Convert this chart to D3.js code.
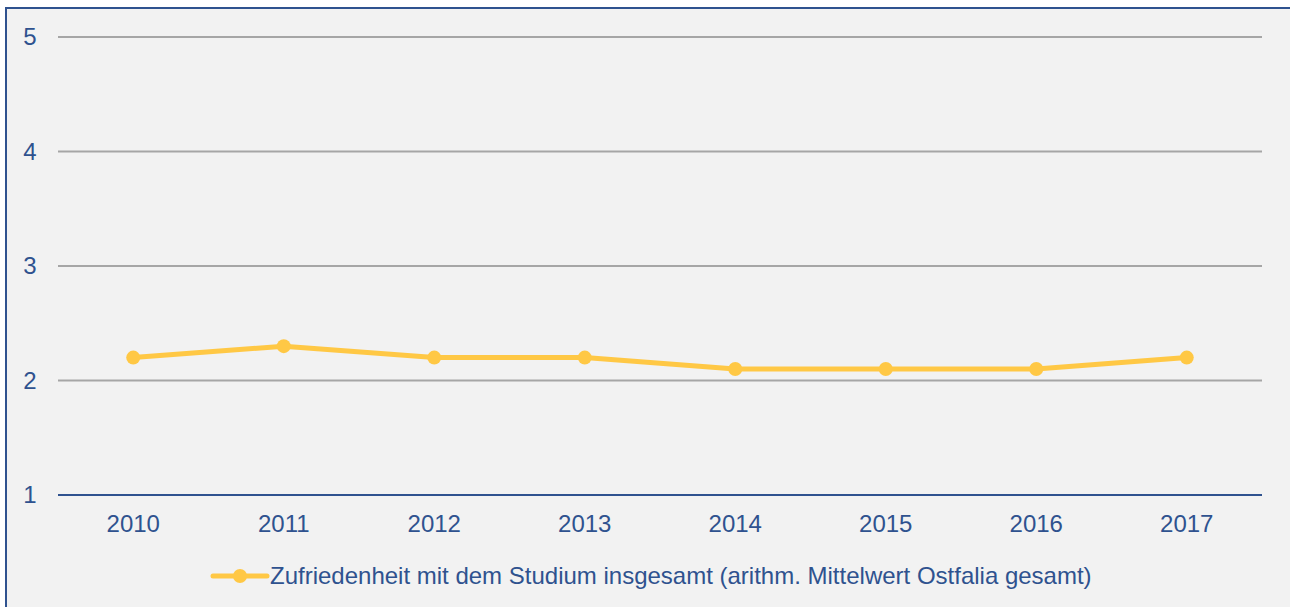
<!DOCTYPE html>
<html>
<head>
<meta charset="utf-8">
<script src="https://cdn.jsdelivr.net/npm/d3@7"></script>
<style>
  body { margin: 0; background: #fff; }
  svg { display: block; font-family: "Liberation Sans", Arial, sans-serif; }
</style>
</head>
<body>
<div id="chart"></div>
<script>
var width = 1290, height = 607;

const years = ["2010", "2011", "2012", "2013", "2014", "2015", "2016", "2017"];
const values = [2.2, 2.3, 2.2, 2.2, 2.1, 2.1, 2.1, 2.2];
const yTicks = [1, 2, 3, 4, 5];
const seriesName = "Zufriedenheit mit dem Studium insgesamt (arithm. Mittelwert Ostfalia gesamt)";

var blue = "#2F528F", gold = "#FFC845";

var svg = d3.select("#chart").append("svg")
  .attr("width", width)
  .attr("height", height);

// chart area with border
svg.append("rect")
  .attr("x", 6).attr("y", 8)
  .attr("width", width + 10).attr("height", height + 10)
  .attr("fill", "#F2F2F2")
  .attr("stroke", blue).attr("stroke-width", 2);

var x = d3.scaleBand().domain(years).range([58, 1262]);
var y = d3.scaleLinear().domain([1, 5]).range([495, 37]);

// gridlines
svg.append("g").selectAll("line.grid")
  .data(yTicks.filter(d => d > 1))
  .enter().append("line")
  .attr("class", "grid")
  .attr("x1", 58).attr("x2", 1262)
  .attr("y1", d => y(d)).attr("y2", d => y(d))
  .attr("stroke", "#A6A6A6").attr("stroke-width", 2);

// axis line
svg.append("line")
  .attr("x1", 58).attr("x2", 1262)
  .attr("y1", y(1)).attr("y2", y(1))
  .attr("stroke", blue).attr("stroke-width", 2);

// y labels
svg.append("g").selectAll("text.ylab")
  .data(yTicks)
  .enter().append("text")
  .attr("x", 30).attr("y", d => y(d) + 8)
  .attr("text-anchor", "middle")
  .attr("font-size", 24).attr("fill", blue)
  .text(d => d);

// x labels
svg.append("g").selectAll("text.xlab")
  .data(years)
  .enter().append("text")
  .attr("x", d => x(d) + x.bandwidth() / 2).attr("y", 532)
  .attr("text-anchor", "middle")
  .attr("font-size", 24).attr("fill", blue)
  .text(d => d);

var pts = years.map((yr, i) => [x(yr) + x.bandwidth() / 2, y(values[i])]);

svg.append("path")
  .datum(pts)
  .attr("d", d3.line())
  .attr("fill", "none")
  .attr("stroke", gold).attr("stroke-width", 5)
  .attr("stroke-linejoin", "round");

svg.append("g").selectAll("circle")
  .data(pts)
  .enter().append("circle")
  .attr("cx", d => d[0]).attr("cy", d => d[1])
  .attr("r", 7)
  .attr("fill", gold);

// legend
var lg = svg.append("g");
lg.append("line")
  .attr("x1", 213).attr("x2", 267)
  .attr("y1", 576).attr("y2", 576)
  .attr("stroke", gold).attr("stroke-width", 5).attr("stroke-linecap", "round");
lg.append("circle")
  .attr("cx", 240).attr("cy", 576).attr("r", 7).attr("fill", gold);
lg.append("text")
  .attr("x", 270).attr("y", 584)
  .attr("font-size", 24).attr("fill", blue)
  .text(seriesName);
</script>
</body>
</html>
